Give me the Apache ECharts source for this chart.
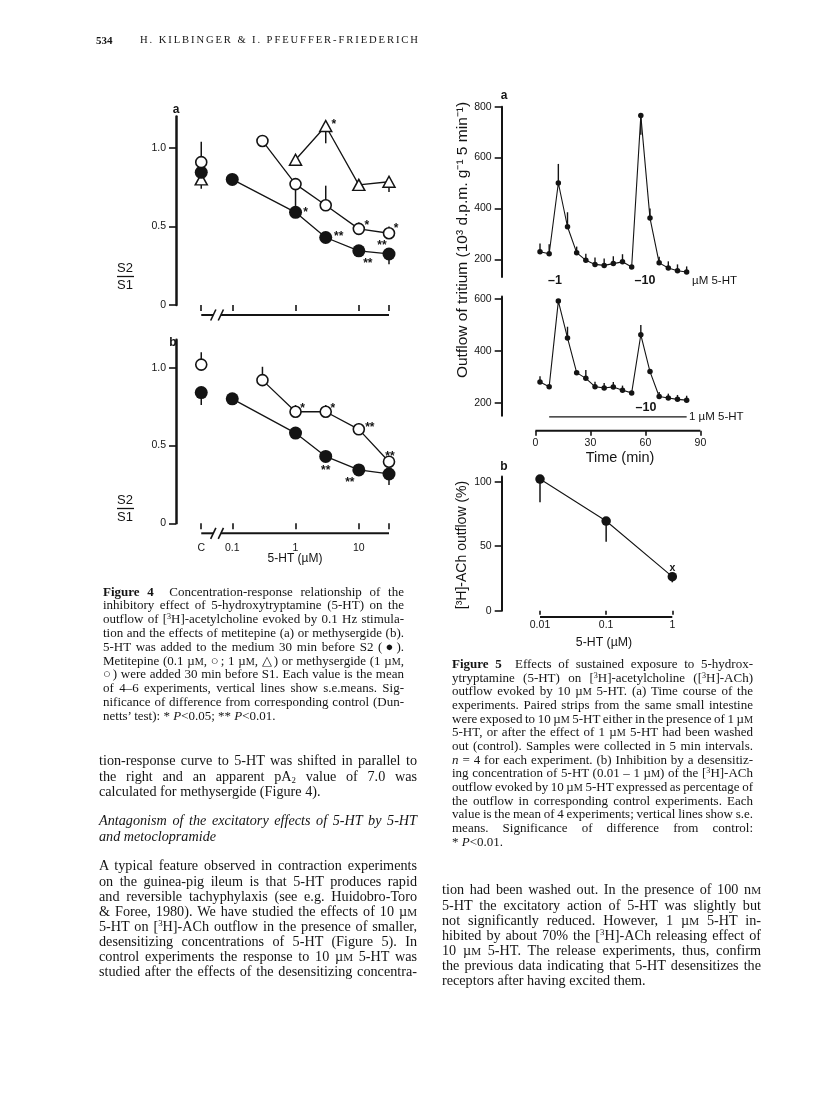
<!DOCTYPE html>
<html>
<head>
<meta charset="utf-8">
<title>Kilbinger &amp; Pfeuffer-Friederich, Figures 4 and 5</title>
<script src="https://cdn.jsdelivr.net/npm/echarts@6.0.0/dist/echarts.min.js"></script>
<style>
  html, body { margin:0; padding:0; background:#fff; }
  #page { position:relative; width:816px; height:1118px; overflow:hidden; background:#fff; }
  #chart { position:absolute; left:0; top:0; width:816px; height:1118px; }
  #text { position:absolute; left:0; top:0; width:816px; height:1118px; pointer-events:none; }
  .ln { position:absolute; font-family:'Liberation Serif','Times New Roman',serif; color:#141414; white-space:nowrap; overflow:visible; }
  .j { text-align:justify; text-align-last:justify; }
  .sc { font-size:78%; }
  sup { font-size:62%; vertical-align:0.55em; line-height:0; }
  sub { font-size:62%; vertical-align:-0.25em; line-height:0; }
</style>
</head>
<body>
<div id="page"><div id="chart"></div><div id="text"></div></div>
<script>
// ================= DATA =================
// ---- Figure 4: S2/S1 ratio vs 5-HT concentration (µM); 'C' = control ----
const fig4Doses      = ['C', 0.1, 1, 3, 10, 30];
const fig4DosesOpen  = ['C', 0.3, 1, 3, 10, 30];
const fig4DosesTri   = ['C', 1, 3, 10, 30];
const fig4XTicks     = ['C', 0.1, 1, 10, 30];
const fig4XLabels    = ['C', '0.1', '1', '10', ''];
const fig4YTicks     = [0, 0.5, 1.0];

// (a) metitepine
const fig4aFilled    = [0.845, 0.80, 0.59, 0.43, 0.345, 0.325];
const fig4aFilledErr = [0.74, 0.775, null, null, null, 0.26];
const fig4aFilledSig = ['', '', '*', '**', '**', '**'];
const fig4aOpen      = [0.91, 1.045, 0.77, 0.635, 0.485, 0.457];
const fig4aOpenErr   = [1.04, 1.075, 0.63, 0.76, 0.525, 0.50];
const fig4aOpenSig   = ['', '', '', '', '*', '*'];
const fig4aTri       = [0.80, 0.925, 1.14, 0.765, 0.785];
const fig4aTriErr    = [null, null, 1.03, null, 0.72];
const fig4aTriSig    = ['', '', '*', '', ''];

// (b) methysergide
const fig4bFilled    = [0.84, 0.80, 0.58, 0.43, 0.343, 0.317];
const fig4bFilledErr = [0.76, 0.775, null, null, null, 0.246];
const fig4bFilledSig = ['', '', '', '**', '**', ''];
const fig4bOpen      = [1.02, 0.92, 0.717, 0.717, 0.604, 0.396];
const fig4bOpenErr   = [1.10, 1.006, 0.76, 0.76, 0.645, null];
const fig4bOpenSig   = ['', '', '*', '*', '**', '**'];

// ---- Figure 5a: tritium outflow (10^3 d.p.m. g-1 5 min-1) vs time (min) ----
const fig5Times       = [2.5, 7.5, 12.5, 17.5, 22.5, 27.5, 32.5, 37.5, 42.5, 47.5, 52.5, 57.5, 62.5, 67.5, 72.5, 77.5, 82.5];
const fig5aTop        = [230, 222, 500, 328, 226, 196, 180, 176, 183, 190, 170, 765, 362, 186, 166, 155, 150];
const fig5aTopErr     = [262, 259, 575, 385, 250, 222, 207, 203, 212, 220, null, 690, 400, 210, 192, 180, 172];
const fig5aBottom     = [280, 262, 592, 450, 316, 294, 262, 257, 261, 248, 238, 462, 320, 224, 218, 213, 210];
const fig5aBottomErr  = [302, null, null, 493, null, 326, 281, 276, 280, 266, null, 500, null, 241, 235, 230, 227];
const fig5TimeTicks   = [0, 30, 60, 90];
const fig5aTopYTicks  = [200, 400, 600, 800];
const fig5aBotYTicks  = [200, 400, 600];
const fig5Exposure1uM = [7.5, 82.5];

// ---- Figure 5b: [3H]-ACh outflow (%) vs desensitizing 5-HT (µM) ----
const fig5bDoses   = [0.01, 0.1, 1];
const fig5bXLabels = ['0.01', '0.1', '1'];
const fig5bValues  = [102, 69.5, 26.4];
const fig5bErr     = [84, 53.5, 22];
const fig5bSig     = ['', '', 'x'];
const fig5bYTicks  = [0, 50, 100];

// ================= LAYOUT / STYLE =================
const INK = '#141414';
const SANS = "'Liberation Sans', Arial, Helvetica, sans-serif";
const CTRL_X = -1.49;            // place of the control column on the log axis
const BREAK_X = [-1.30, -1.18];  // axis break
const xPos4 = d => d === 'C' ? CTRL_X : Math.log10(d);
const starStyle = { color: INK, fontSize: 12, fontWeight: 'bold', fontFamily: SANS };

const starOffsets = {
  aFilled: [null, null, [10, 0], [13, -1], [9, 13], [-7, -8]],
  aOpen:   [null, null, null, null, [8, -3], [7, -5]],
  aTri:    [null, null, [8, -1], null, null],
  bFilled: [null, null, null, [0, 14], [-9, 13], null],
  bOpen:   [null, null, [7, -3], [7, -3], [11, -2], [1, -5]],
  fig5b:   [null, null, [0, -9]]
};

const grids = [
  { left: 176,   top: 116.6, width: 213,   height: 188.4 },  // 4a
  { left: 176,   top: 339.7, width: 213,   height: 183.6 },  // 4b
  { left: 501.7, top: 106.7, width: 198.7, height: 170.4 },  // 5a top
  { left: 501.7, top: 296.4, width: 198.7, height: 119.3 },  // 5a bottom
  { left: 501.7, top: 476.5, width: 170.6, height: 134.2 }   // 5b
].map(g => Object.assign({ containLabel: false, outerBoundsMode: 'none' }, g));

function labelFromTicks(ticks, labels) {
  return v => { const i = ticks.findIndex(t => Math.abs(t - v) < 1e-6); return i >= 0 ? labels[i] : ''; };
}
function xAxisCfg(gi, min, max, ticks, labels, offset, margin, tickLen) {
  return {
    type: 'value', gridIndex: gi, min, max, offset,
    axisLine: { show: false },
    axisTick: { show: ticks.length > 0, customValues: ticks, length: tickLen, lineStyle: { color: INK, width: 1.6 } },
    axisLabel: { show: !!labels, customValues: ticks, margin, color: INK, fontSize: 10.5, fontFamily: SANS,
                 formatter: labels ? labelFromTicks(ticks, labels) : '' },
    splitLine: { show: false }
  };
}
function yAxisCfg(gi, min, max, ticks, fmt, lw) {
  return {
    type: 'value', gridIndex: gi, min, max,
    axisLine: { show: true, onZero: false, lineStyle: { color: INK, width: lw } },
    axisTick: { show: true, customValues: ticks, length: 7, lineStyle: { color: INK, width: 1.6 } },
    axisLabel: { show: true, customValues: ticks, margin: 10, color: INK, fontSize: 10.5, fontFamily: SANS, formatter: fmt },
    splitLine: { show: false }
  };
}
function errSeries(gi, data, lw) {
  return {
    type: 'custom', xAxisIndex: gi, yAxisIndex: gi, z: 2, silent: true, data,
    renderItem: (p, api) => {
      const a = api.coord([api.value(0), api.value(1)]);
      const b = api.coord([api.value(0), api.value(2)]);
      return { type: 'line', shape: { x1: a[0], y1: a[1], x2: b[0], y2: b[1] }, style: { stroke: INK, lineWidth: lw } };
    }
  };
}
function axisLineSeries(gi, segments, yVal, offset, lw, slashes) {
  return {
    type: 'custom', xAxisIndex: gi, yAxisIndex: gi, z: 5, silent: true, data: [[0]],
    renderItem: (p, api) => {
      const children = [];
      segments.forEach(([s, e]) => {
        const a = api.coord([s, yVal]), b = api.coord([e, yVal]);
        children.push({ type: 'line', shape: { x1: a[0], y1: a[1] + offset, x2: b[0], y2: b[1] + offset },
                        style: { stroke: INK, lineWidth: lw } });
      });
      (slashes || []).forEach(s => {
        const c = api.coord([s, yVal]);
        children.push({ type: 'line', shape: { x1: c[0] - 2.6, y1: c[1] + offset + 5.5, x2: c[0] + 2.6, y2: c[1] + offset - 5.5 },
                        style: { stroke: INK, lineWidth: 1.6 } });
      });
      return { type: 'group', children };
    }
  };
}
function symStyle(kind) {
  if (kind === 'filled') return { symbol: 'circle', symbolSize: 13, itemStyle: { color: INK, opacity: 1 } };
  if (kind === 'open') return { symbol: 'circle', symbolSize: 11, itemStyle: { color: '#fff', borderColor: INK, borderWidth: 1.6, opacity: 1 } };
  return { symbol: 'triangle', symbolSize: [12, 11], itemStyle: { color: '#fff', borderColor: INK, borderWidth: 1.5, opacity: 1 } };
}
function fig4Group(gi, doses, vals, errs, sigs, kind, offs) {
  const idx = doses.map((d, i) => i);
  const item = i => {
    const o = { value: [xPos4(doses[i]), vals[i]] };
    if (sigs[i]) o.label = Object.assign({ show: true, formatter: sigs[i], position: 'inside', offset: offs[i] }, starStyle);
    return o;
  };
  const sym = symStyle(kind);
  return [
    errSeries(gi, idx.filter(i => errs[i] != null).map(i => [xPos4(doses[i]), vals[i], errs[i]]), 1.5),
    Object.assign({ type: 'line', xAxisIndex: gi, yAxisIndex: gi, z: 3, silent: true, showAllSymbol: true,
      data: idx.filter(i => doses[i] !== 'C').map(item), lineStyle: { color: INK, width: 1.3 },
      label: { show: false } }, sym),
    Object.assign({ type: 'scatter', xAxisIndex: gi, yAxisIndex: gi, z: 3, silent: true,
      data: idx.filter(i => doses[i] === 'C').map(item), label: { show: false } }, sym)
  ];
}
function fig5Group(gi, vals, errs) {
  return [
    errSeries(gi, fig5Times.map((t, i) => [t, vals[i], errs[i]]).filter(r => r[2] != null), 1.4),
    { type: 'line', xAxisIndex: gi, yAxisIndex: gi, z: 3, silent: true, showAllSymbol: true,
      data: fig5Times.map((t, i) => [t, vals[i]]), symbol: 'circle', symbolSize: 5.5,
      itemStyle: { color: INK }, lineStyle: { color: INK, width: 1.1 } }
  ];
}

const fig4XT = fig4XTicks.map(xPos4);
const fmt4 = v => (v === 0 ? '0' : v.toFixed(1));
const fig5bXT = fig5bDoses.map(d => Math.log10(d));

const series = [].concat(
  // Figure 4a
  axisLineSeries(0, [[CTRL_X, BREAK_X[0]], [BREAK_X[1], Math.log10(30)]], 0, 10, 2, BREAK_X),
  fig4Group(0, fig4DosesTri, fig4aTri, fig4aTriErr, fig4aTriSig, 'tri', starOffsets.aTri),
  fig4Group(0, fig4Doses, fig4aFilled, fig4aFilledErr, fig4aFilledSig, 'filled', starOffsets.aFilled),
  fig4Group(0, fig4DosesOpen, fig4aOpen, fig4aOpenErr, fig4aOpenSig, 'open', starOffsets.aOpen),
  // Figure 4b
  axisLineSeries(1, [[CTRL_X, BREAK_X[0]], [BREAK_X[1], Math.log10(30)]], 0, 10, 2, BREAK_X),
  fig4Group(1, fig4Doses, fig4bFilled, fig4bFilledErr, fig4bFilledSig, 'filled', starOffsets.bFilled),
  fig4Group(1, fig4DosesOpen, fig4bOpen, fig4bOpenErr, fig4bOpenSig, 'open', starOffsets.bOpen),
  // Figure 5a
  fig5Group(2, fig5aTop, fig5aTopErr),
  fig5Group(3, fig5aBottom, fig5aBottomErr),
  axisLineSeries(3, [[fig5TimeTicks[0], fig5TimeTicks[fig5TimeTicks.length - 1]]], 150, 15, 2),
  axisLineSeries(3, [fig5Exposure1uM], 150, 1.2, 1.4),
  // Figure 5b
  axisLineSeries(4, [[fig5bXT[0], fig5bXT[fig5bXT.length - 1]]], 0, 6.3, 2),
  errSeries(4, fig5bDoses.map((d, i) => [Math.log10(d), fig5bValues[i], fig5bErr[i]]), 1.5),
  { type: 'line', xAxisIndex: 4, yAxisIndex: 4, z: 3, silent: true, showAllSymbol: true,
    data: fig5bDoses.map((d, i) => {
      const o = { value: [Math.log10(d), fig5bValues[i]] };
      if (fig5bSig[i]) o.label = Object.assign({ show: true, formatter: fig5bSig[i], position: 'inside', offset: starOffsets.fig5b[i] }, starStyle, { fontSize: 10.5 });
      return o;
    }),
    symbol: 'circle', symbolSize: 9.5, itemStyle: { color: INK }, lineStyle: { color: INK, width: 1.1 }, label: { show: false } }
);

function txt(t, x, y, font, opts) {
  const o = Object.assign({ type: 'text', x, y, silent: true, z: 10,
    style: { text: t, font, fill: INK, textAlign: 'center', textVerticalAlign: 'middle', align: 'center', verticalAlign: 'middle' } }, opts || {});
  if (opts && opts.left) { o.style.textAlign = 'left'; o.style.align = 'left'; delete o.left; }
  return o;
}
const F = (s, w) => `${w || 'normal'} ${s}px ${SANS}`;
const graphic = [
  txt('a', 176, 110, F(12, 'bold')),
  txt('b', 173, 343, F(12, 'bold')),
  txt('S2', 125, 268, F(13)), { type: 'line', silent: true, shape: { x1: 117, y1: 276.5, x2: 134, y2: 276.5 }, style: { stroke: INK, lineWidth: 1.3 } },
  txt('S1', 125, 285, F(13)),
  txt('S2', 125, 500, F(13)), { type: 'line', silent: true, shape: { x1: 117, y1: 508.5, x2: 134, y2: 508.5 }, style: { stroke: INK, lineWidth: 1.3 } },
  txt('S1', 125, 517, F(13)),
  txt('5-HT (µM)', 295, 559, F(12)),
  txt('a', 504, 96, F(12, 'bold')),
  txt('b', 504, 467, F(12, 'bold')),
  txt('–1', 555, 281, F(12.5, 'bold')),
  txt('–10', 645, 281, F(12.5, 'bold')),
  txt('µM 5-HT', 692, 281, F(11.5), { left: true }),
  txt('–10', 646, 407.5, F(12.5, 'bold')),
  txt('1 µM 5-HT', 689, 417, F(11.5), { left: true }),
  txt('Outflow of tritium (10³ d.p.m. g⁻¹ 5 min⁻¹)', 463, 240, F(15.5), { rotation: Math.PI / 2 }),
  txt('[³H]-ACh outflow (%)', 462, 545, F(14), { rotation: Math.PI / 2 }),
  txt('Time (min)', 620, 458, F(14.5)),
  txt('5-HT (µM)', 604, 643, F(12.3))
];

const chart = echarts.init(document.getElementById('chart'), null, { renderer: 'canvas', width: 816, height: 1118 });
chart.setOption({
  animation: false,
  backgroundColor: '#ffffff',
  grid: grids,
  xAxis: [
    xAxisCfg(0, -1.889, Math.log10(30), fig4XT, null, 10, 9, 6),
    xAxisCfg(1, -1.889, Math.log10(30), fig4XT, fig4XLabels, 10, 9, 6),
    Object.assign(xAxisCfg(2, -18.4, 90, [], null, 0, 0, 0), { show: false }),
    xAxisCfg(3, -18.4, 90, fig5TimeTicks, fig5TimeTicks.map(String), 15, 7, 5),
    xAxisCfg(4, -2.579, 0, fig5bXT, fig5bXLabels, 6.3, 3, 4)
  ],
  yAxis: [
    yAxisCfg(0, 0, 1.2, fig4YTicks, fmt4, 2.5),
    yAxisCfg(1, 0, 1.18, fig4YTicks, fmt4, 2.5),
    yAxisCfg(2, 130, 800, fig5aTopYTicks, v => String(v), 2),
    yAxisCfg(3, 150, 610, fig5aBotYTicks, v => String(v), 2),
    yAxisCfg(4, 0, 104, fig5bYTicks, v => String(v), 2)
  ],
  series,
  graphic
});

// ================= PAGE TEXT =================
const M = '<span class="sc">M</span>';
const CAP = { size: 13, wordSpacing: -1.6 };
const BODY = { size: 14.2, wordSpacing: -1.6 };
const textBlocks = [
  { left: 96, width: 40, y0: 40, dy: 14, size: 11, bold: true, lastLeft: true, lines: ['534'] },
  { left: 140, width: 300, y0: 40, dy: 14, size: 10.6, spacing: 1.9, lastLeft: true, lines: ['H. KILBINGER &amp; I. PFEUFFER-FRIEDERICH'] },
  Object.assign({ left: 103, width: 301, y0: 591.5, dy: 13.8, lastLeft: true, lines: [
    '<b>Figure 4</b>&nbsp; Concentration-response relationship of the',
    'inhibitory effect of 5-hydroxytryptamine (5-HT) on the',
    'outflow of [<sup>3</sup>H]-acetylcholine evoked by 0.1 Hz stimula-',
    'tion and the effects of metitepine (a) or methysergide (b).',
    '5-HT was added to the medium 30 min before S2 (●).',
    `Metitepine (0.1 µ${M}, ○; 1 µ${M}, △) or methysergide (1 µ${M},`,
    '○) were added 30 min before S1. Each value is the mean',
    'of 4–6 experiments, vertical lines show s.e.means. Sig-',
    'nificance of difference from corresponding control (Dun-',
    'netts’ test): * <i>P</i>&lt;0.05; ** <i>P</i>&lt;0.01.'
  ] }, CAP),
  Object.assign({ left: 452, width: 301, y0: 664, dy: 13.65, lastLeft: true, lines: [
    '<b>Figure 5</b>&nbsp; Effects of sustained exposure to 5-hydrox-',
    'ytryptamine (5-HT) on [<sup>3</sup>H]-acetylcholine ([<sup>3</sup>H]-ACh)',
    `outflow evoked by 10 µ${M} 5-HT. (a) Time course of the`,
    'experiments. Paired strips from the same small intestine',
    `were exposed to 10 µ${M} 5-HT either in the presence of 1 µ${M}`,
    `5-HT, or after the effect of 1 µ${M} 5-HT had been washed`,
    'out (control). Samples were collected in 5 min intervals.',
    '<i>n</i> = 4 for each experiment. (b) Inhibition by a desensitiz-',
    `ing concentration of 5-HT (0.01 – 1 µ${M}) of the [<sup>3</sup>H]-ACh`,
    `outflow evoked by 10 µ${M} 5-HT expressed as percentage of`,
    'the outflow in corresponding control experiments. Each',
    'value is the mean of 4 experiments; vertical lines show s.e.',
    'means. Significance of difference from control:',
    '* <i>P</i>&lt;0.01.'
  ] }, CAP),
  Object.assign({ left: 99, width: 318, y0: 761, dy: 15.1, lastLeft: true, lines: [
    'tion-response curve to 5-HT was shifted in parallel to',
    'the right and an apparent pA<sub>2</sub> value of 7.0 was',
    'calculated for methysergide (Figure 4).'
  ] }, BODY),
  Object.assign({ left: 99, width: 318, y0: 821, dy: 15.1, italic: true, lastLeft: true, lines: [
    'Antagonism of the excitatory effects of 5-HT by 5-HT',
    'and metoclopramide'
  ] }, BODY),
  Object.assign({ left: 99, width: 318, y0: 866, dy: 15.1, lastLeft: false, lines: [
    'A typical feature observed in contraction experiments',
    'on the guinea-pig ileum is that 5-HT produces rapid',
    'and reversible tachyphylaxis (see e.g. Huidobro-Toro',
    `&amp; Foree, 1980). We have studied the effects of 10 µ${M}`,
    '5-HT on [<sup>3</sup>H]-ACh outflow in the presence of smaller,',
    'desensitizing concentrations of 5-HT (Figure 5). In',
    `control experiments the response to 10 µ${M} 5-HT was`,
    'studied after the effects of the desensitizing concentra-'
  ] }, BODY),
  Object.assign({ left: 442, width: 319, y0: 890, dy: 15.1, lastLeft: true, lines: [
    'tion had been washed out. In the presence of 100 n' + M,
    '5-HT the excitatory action of 5-HT was slightly but',
    `not significantly reduced. However, 1 µ${M} 5-HT in-`,
    'hibited by about 70% the [<sup>3</sup>H]-ACh releasing effect of',
    `10 µ${M} 5-HT. The release experiments, thus, confirm`,
    'the previous data indicating that 5-HT desensitizes the',
    'receptors after having excited them.'
  ] }, BODY)
];
const textDiv = document.getElementById('text');
textBlocks.forEach(b => b.lines.forEach((h, i) => {
  const d = document.createElement('div');
  const justify = (i < b.lines.length - 1) || !b.lastLeft;
  d.className = 'ln' + (justify ? ' j' : '');
  d.style.left = b.left + 'px';
  d.style.width = b.width + 'px';
  d.style.top = (b.y0 + i * b.dy - b.dy / 2) + 'px';
  d.style.height = b.dy + 'px';
  d.style.lineHeight = b.dy + 'px';
  d.style.fontSize = b.size + 'px';
  if (b.italic) d.style.fontStyle = 'italic';
  if (b.bold) d.style.fontWeight = 'bold';
  if (b.spacing) d.style.letterSpacing = b.spacing + 'px';
  if (b.wordSpacing && justify) d.style.wordSpacing = b.wordSpacing + 'px';
  d.innerHTML = h;
  textDiv.appendChild(d);
}));
</script>
</body>
</html>
